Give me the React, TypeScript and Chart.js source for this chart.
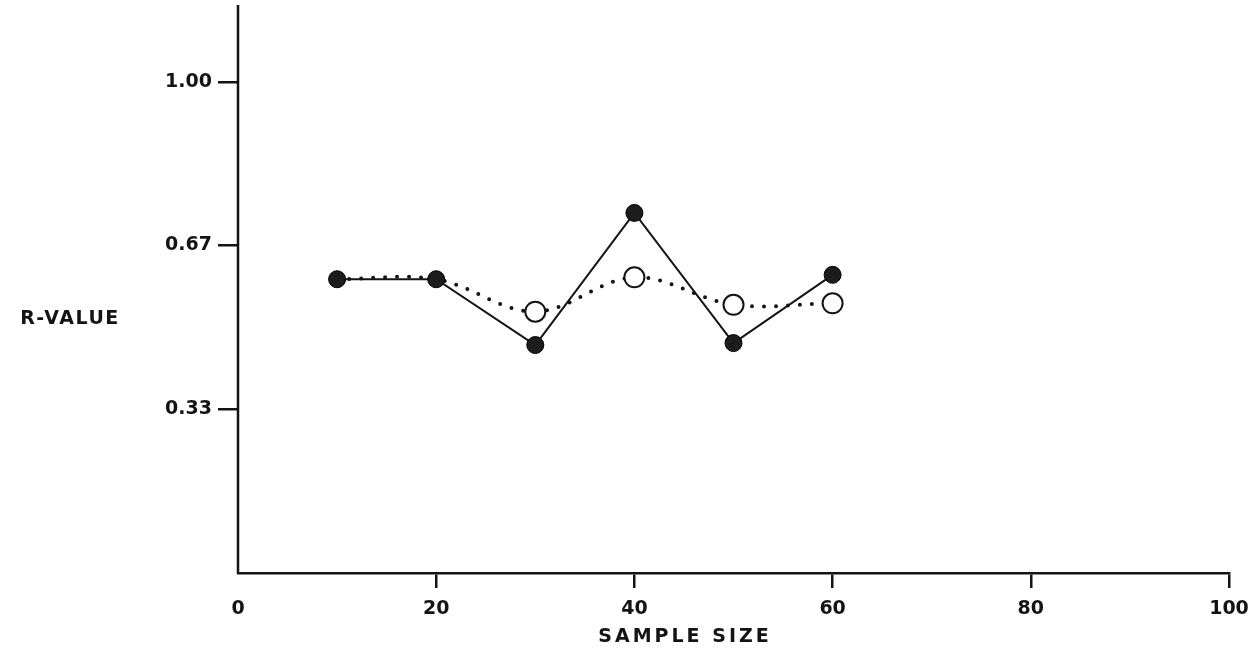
import React, { useEffect, useRef } from "react";
import { Chart, registerables } from "chart.js";

Chart.register(...registerables);

const SAMPLE_SIZES = [10, 20, 30, 40, 50, 60];
const FILLED_SERIES = [0.598, 0.598, 0.464, 0.733, 0.468, 0.607];
const OPEN_SERIES = [0.598, 0.598, 0.532, 0.602, 0.546, 0.549];
const OPEN_RADII = [0, 0, 10, 10, 10, 10];

const X_TICKS = [0, 20, 40, 60, 80, 100];
const X_TICK_LABELS = ["0", "20", "40", "60", "80", "100"];
const Y_TICKS = [0.333, 0.667, 1.0];
const Y_TICK_LABELS = ["0.33", "0.67", "1.00"];

const X_TITLE = "SAMPLE SIZE";
const Y_TITLE = "R-VALUE";

const INK = "#141414";
const FONT = '"DejaVu Sans", sans-serif';

const titlesPlugin = {
  id: "titles",
  afterDraw(chart: any) {
    const ctx = chart.ctx;
    const area = chart.chartArea;
    ctx.save();
    // y axis line, running a little above the plotting area as in the source
    ctx.strokeStyle = INK;
    ctx.lineWidth = 2.5;
    ctx.beginPath();
    ctx.moveTo(area.left, 5);
    ctx.lineTo(area.left, area.bottom + 1);
    ctx.stroke();

    ctx.fillStyle = INK;
    ctx.font = `bold 19px ${FONT}`;
    ctx.textAlign = "center";
    ctx.textBaseline = "middle";
    try { (ctx as any).letterSpacing = "1.5px"; } catch (e) {}
    ctx.fillText(Y_TITLE, 70, 319);
    try { (ctx as any).letterSpacing = "3px"; } catch (e) {}
    ctx.fillText(X_TITLE, 685, 637);
    ctx.restore();
  },
};

const bgPlugin = {
  id: "bg",
  beforeDraw(chart: any) {
    const ctx = chart.ctx;
    ctx.save();
    ctx.fillStyle = "#ffffff";
    ctx.fillRect(0, 0, chart.width, chart.height);
    ctx.restore();
  },
};

export default function App() {
  const ref = useRef<HTMLCanvasElement | null>(null);

  useEffect(() => {
    if (!ref.current) return;
    const chart = new Chart(ref.current, {
      type: "line",
      data: {
        datasets: [
          {
            label: "filled",
            data: SAMPLE_SIZES.map((x, i) => ({ x, y: FILLED_SERIES[i] })),
            borderColor: INK,
            borderWidth: 2,
            pointRadius: 8.5,
            pointBackgroundColor: "#1c1c1c",
            pointBorderColor: "#000",
            pointBorderWidth: 1,
            tension: 0,
            order: 0,
          },
          {
            label: "open",
            data: SAMPLE_SIZES.map((x, i) => ({ x, y: OPEN_SERIES[i] })),
            borderColor: INK,
            borderWidth: 4,
            borderDash: [0, 12],
            borderCapStyle: "round",
            pointRadius: OPEN_RADII,
            pointBackgroundColor: "#ffffff",
            pointBorderColor: INK,
            pointBorderWidth: 2,
            tension: 0.35,
            order: 1,
          },
        ] as any,
      },
      options: {
        animation: false,
        responsive: false,
        events: [],
        layout: { padding: { left: 0, right: 29, top: 5, bottom: 0 } },
        plugins: { legend: { display: false }, tooltip: { enabled: false } },
        scales: {
          x: {
            type: "linear",
            min: 0,
            max: 100,
            afterFit: (s: any) => { s.height = 83; s.paddingLeft = 0; s.paddingRight = 0; },
            afterBuildTicks: (s: any) => { s.ticks = X_TICKS.map((v) => ({ value: v })); },
            border: { display: true, color: INK, width: 2.5 },
            grid: {
              drawOnChartArea: false,
              drawTicks: true,
              tickLength: 15,
              lineWidth: 2.5,
              color: (c: any) => (c.tick && c.tick.value === 0 ? "rgba(0,0,0,0)" : INK),
            },
            ticks: {
              padding: 10,
              maxRotation: 0,
              color: INK,
              font: { family: FONT, size: 19, weight: "bold" },
              callback: (_v: any, i: number) => X_TICK_LABELS[i],
            },
          },
          y: {
            type: "linear",
            min: 0,
            max: 1.142,
            afterFit: (s: any) => { s.width = 238; s.paddingTop = 0; s.paddingBottom = 0; },
            afterBuildTicks: (s: any) => { s.ticks = Y_TICKS.map((v) => ({ value: v })); },
            border: { display: false },
            grid: {
              drawOnChartArea: false,
              drawTicks: true,
              tickLength: 20,
              lineWidth: 2.5,
              color: INK,
            },
            ticks: {
              padding: 6,
              color: INK,
              font: { family: FONT, size: 19, weight: "bold" },
              callback: (_v: any, i: number) => Y_TICK_LABELS[i],
            },
          },
        },
      } as any,
      plugins: [bgPlugin, titlesPlugin],
    });
    return () => chart.destroy();
  }, []);

  return (
    <div style={{ position: "fixed", left: 0, top: 0, width: 1258, height: 656, background: "#fff" }}>
      <canvas ref={ref} width={1258} height={656} style={{ display: "block" }} />
    </div>
  );
}
